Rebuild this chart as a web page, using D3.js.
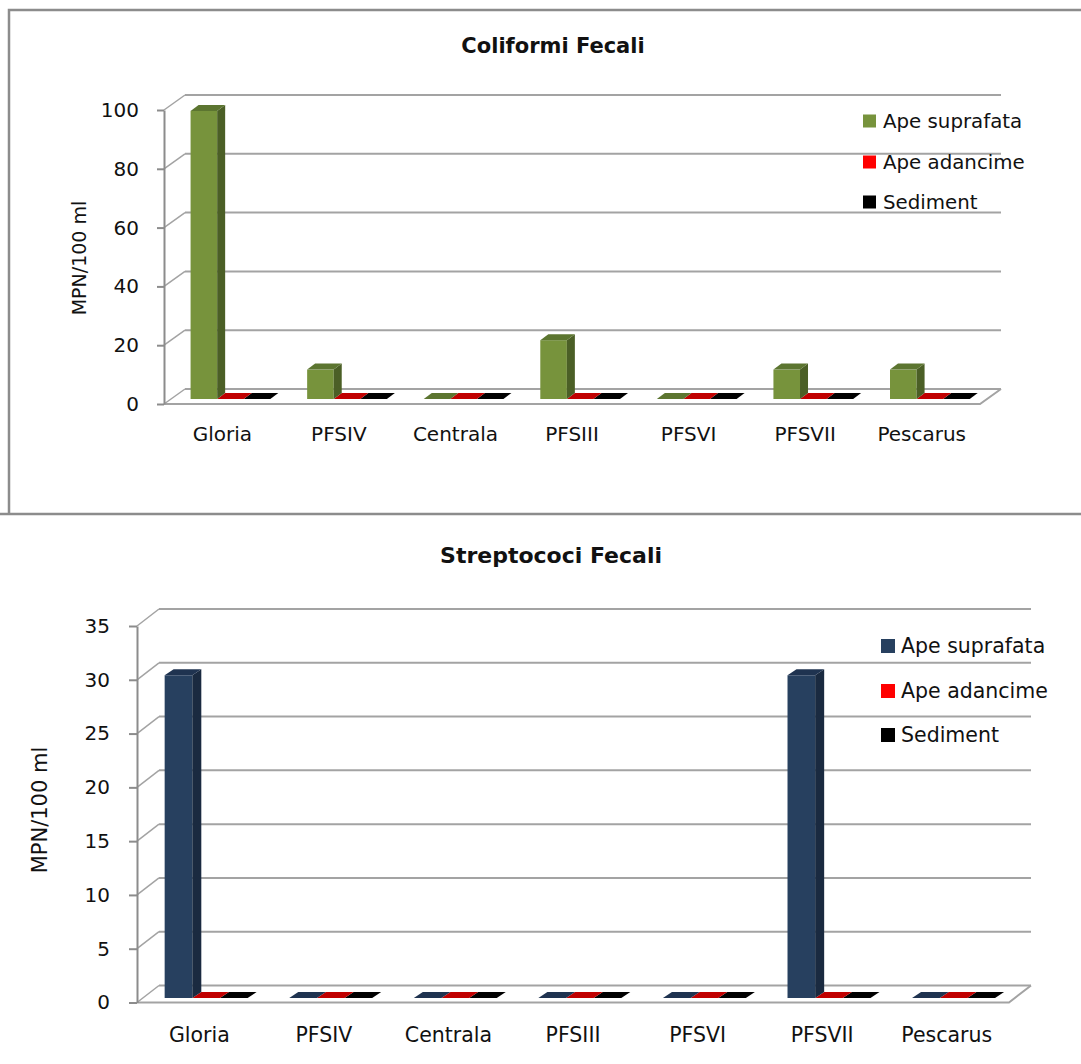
<!DOCTYPE html>
<html>
<head>
<meta charset="utf-8">
<script src="https://cdn.jsdelivr.net/npm/d3@7/dist/d3.min.js"></script>
<style>
  html, body { margin: 0; padding: 0; background: #fff; }
  svg { display: block; }
  text { font-family: "DejaVu Sans", sans-serif; fill: #111; }
</style>
</head>
<body>
<svg id="chart" width="1081" height="1064"></svg>
<script>
// ---------- data ----------
const categories = ["Gloria", "PFSIV", "Centrala", "PFSIII", "PFSVI", "PFSVII", "Pescarus"];
const seriesNames = ["Ape suprafata", "Ape adancime", "Sediment"];

const coliformiSuprafata = [98, 10, 0, 20, 0, 10, 10];
const coliformiAdancime  = [0, 0, 0, 0, 0, 0, 0];
const coliformiSediment  = [0, 0, 0, 0, 0, 0, 0];
const coliformiTicks = [0, 20, 40, 60, 80, 100];

const streptocociSuprafata = [30, 0, 0, 0, 0, 30, 0];
const streptocociAdancime  = [0, 0, 0, 0, 0, 0, 0];
const streptocociSediment  = [0, 0, 0, 0, 0, 0, 0];
const streptocociTicks = [0, 5, 10, 15, 20, 25, 30, 35];

const titles = ["Coliformi Fecali", "Streptococi Fecali"];
const yAxisTitle = "MPN/100 ml";

// ---------- styles ----------
const greenColors = { front: "#77933C", side: "#4B5F26", top: "#5C7530" };
const navyColors  = { front: "#27405F", side: "#1A2A40", top: "#1F3350" };
const redColors   = { front: "#FF0000", side: "#A00000", top: "#C00000" };
const blackColors = { front: "#000000", side: "#000000", top: "#000000" };
const gridColor = "#a3a3a3";
const axisColor = "#8c8c8c";

const svg = d3.select("#chart");

function drawChart(cfg) {
  const g = svg.append("g");
  const x = d3.scaleBand().domain(categories).range([cfg.x0, cfg.x1]).padding(0);
  const y = d3.scaleLinear().domain([0, cfg.yMax]).range([cfg.y0, cfg.y1]);
  const bw = x.bandwidth();

  // back wall gridlines
  g.append("g").selectAll("line").data(cfg.ticks).join("line")
    .attr("x1", cfg.x0 + cfg.wallDx).attr("x2", cfg.x1 + cfg.wallDx)
    .attr("y1", d => y(d) - cfg.wallDy).attr("y2", d => y(d) - cfg.wallDy)
    .attr("stroke", gridColor).attr("stroke-width", 2);
  // side wall diagonals
  g.append("g").selectAll("line").data(cfg.ticks).join("line")
    .attr("x1", cfg.x0).attr("x2", cfg.x0 + cfg.wallDx)
    .attr("y1", d => y(d)).attr("y2", d => y(d) - cfg.wallDy)
    .attr("stroke", gridColor).attr("stroke-width", 1.5);
  // floor front edge + right edge
  g.append("path")
    .attr("d", `M${cfg.x0},${y(0)} H${cfg.x1} L${cfg.x1 + cfg.wallDx},${y(0) - cfg.wallDy}`)
    .attr("fill", "none").attr("stroke", gridColor).attr("stroke-width", 2);

  // y axis
  const yAxis = d3.axisLeft(y).tickValues(cfg.ticks).tickSize(cfg.tickSize).tickSizeOuter(0).tickPadding(cfg.tickPad);
  const ya = g.append("g").attr("transform", `translate(${cfg.x0},0)`).call(yAxis);
  ya.select(".domain").attr("stroke", axisColor).attr("stroke-width", 2);
  ya.selectAll(".tick line").attr("stroke", axisColor).attr("stroke-width", 2);
  ya.selectAll(".tick text").attr("font-size", cfg.tickFont).attr("font-family", "DejaVu Sans").attr("fill", "#111");

  // bars
  const bars = g.append("g");
  categories.forEach((c, i) => {
    for (let s = cfg.series.length - 1; s >= 0; s--) {
      const v = cfg.series[s][i];
      const col = cfg.colors[s];
      const bx = x(c) + bw * cfg.pad + s * bw * cfg.slot;
      const w = bw * cfg.slot;
      const base = y(0) - cfg.lift;
      const top = y(v) - cfg.lift;
      const dx = cfg.barDx, dy = cfg.barDy;
      if (v > 0) {
        bars.append("rect").attr("x", bx).attr("y", top).attr("width", w).attr("height", base - top).attr("fill", col.front);
        bars.append("polygon")
          .attr("points", [[bx + w, top], [bx + w + dx, top - dy], [bx + w + dx, base - dy], [bx + w, base]].join(" "))
          .attr("fill", col.side);
      }
      bars.append("polygon")
        .attr("points", [[bx, top], [bx + dx, top - dy], [bx + w + dx, top - dy], [bx + w, top]].join(" "))
        .attr("fill", col.top);
    }
  });

  // category labels
  const xAxis = d3.axisBottom(x).tickSize(0).tickPadding(0);
  const xa = g.append("g").attr("transform", `translate(0,${cfg.catY})`).call(xAxis);
  xa.select(".domain").remove();
  xa.selectAll(".tick text").attr("y", 0).attr("dy", "0.36em")
    .attr("font-size", cfg.catFont).attr("font-family", "DejaVu Sans").attr("fill", "#111");

  // title
  g.append("text").attr("x", cfg.titleX).attr("y", cfg.titleY)
    .attr("text-anchor", "middle").attr("font-weight", "bold").attr("font-size", cfg.titleFont)
    .text(cfg.title);

  // y axis title
  g.append("text")
    .attr("transform", `translate(${cfg.yTitleX},${cfg.yTitleY}) rotate(-90)`)
    .attr("text-anchor", "middle").attr("dy", "0.36em").attr("font-size", cfg.yTitleFont)
    .text(yAxisTitle);

  // legend
  const lg = g.append("g");
  seriesNames.forEach((name, s) => {
    lg.append("rect").attr("x", cfg.legX).attr("y", cfg.legY[s] - cfg.legSq / 2)
      .attr("width", cfg.legSq).attr("height", cfg.legSq).attr("fill", cfg.legendColors[s]);
    lg.append("text").attr("x", cfg.legTextX).attr("y", cfg.legY[s]).attr("dy", "0.36em")
      .attr("font-size", cfg.legFont).text(name);
  });
}

// frame of the first chart
svg.append("path").attr("d", "M9,514 V10 H1081").attr("fill", "none").attr("stroke", "#8c8c8c").attr("stroke-width", 2.5);
svg.append("line").attr("x1", 0).attr("x2", 1081).attr("y1", 514).attr("y2", 514).attr("stroke", "#8c8c8c").attr("stroke-width", 2.5);

drawChart({
  title: titles[0], titleX: 553, titleY: 53, titleFont: 21,
  x0: 164, x1: 980, y0: 404, y1: 110, yMax: 100, ticks: coliformiTicks,
  wallDx: 21, wallDy: 15, tickSize: 7, tickPad: 18, tickFont: 20,
  pad: 0.228, slot: 0.228, barDx: 8, barDy: 6, lift: 5,
  series: [coliformiSuprafata, coliformiAdancime, coliformiSediment],
  colors: [greenColors, redColors, blackColors],
  legendColors: ["#77933C", "#FF0000", "#000000"],
  catY: 434, catFont: 20,
  yTitleX: 79, yTitleY: 258, yTitleFont: 19,
  legX: 863, legSq: 13, legTextX: 883, legY: [121, 162, 202], legFont: 19.8
});

drawChart({
  title: titles[1], titleX: 551, titleY: 563, titleFont: 22,
  x0: 137, x1: 1009, y0: 1002.5, y1: 626, yMax: 35, ticks: streptocociTicks,
  wallDx: 22, wallDy: 17, tickSize: 8, tickPad: 19, tickFont: 20,
  pad: 0.222, slot: 0.222, barDx: 9, barDy: 6, lift: 4.5,
  series: [streptocociSuprafata, streptocociAdancime, streptocociSediment],
  colors: [navyColors, redColors, blackColors],
  legendColors: ["#27405F", "#FF0000", "#000000"],
  catY: 1035, catFont: 20.5,
  yTitleX: 39, yTitleY: 810, yTitleFont: 21,
  legX: 881, legSq: 14, legTextX: 901, legY: [646, 691, 735], legFont: 20.5
});
</script>
</body>
</html>
